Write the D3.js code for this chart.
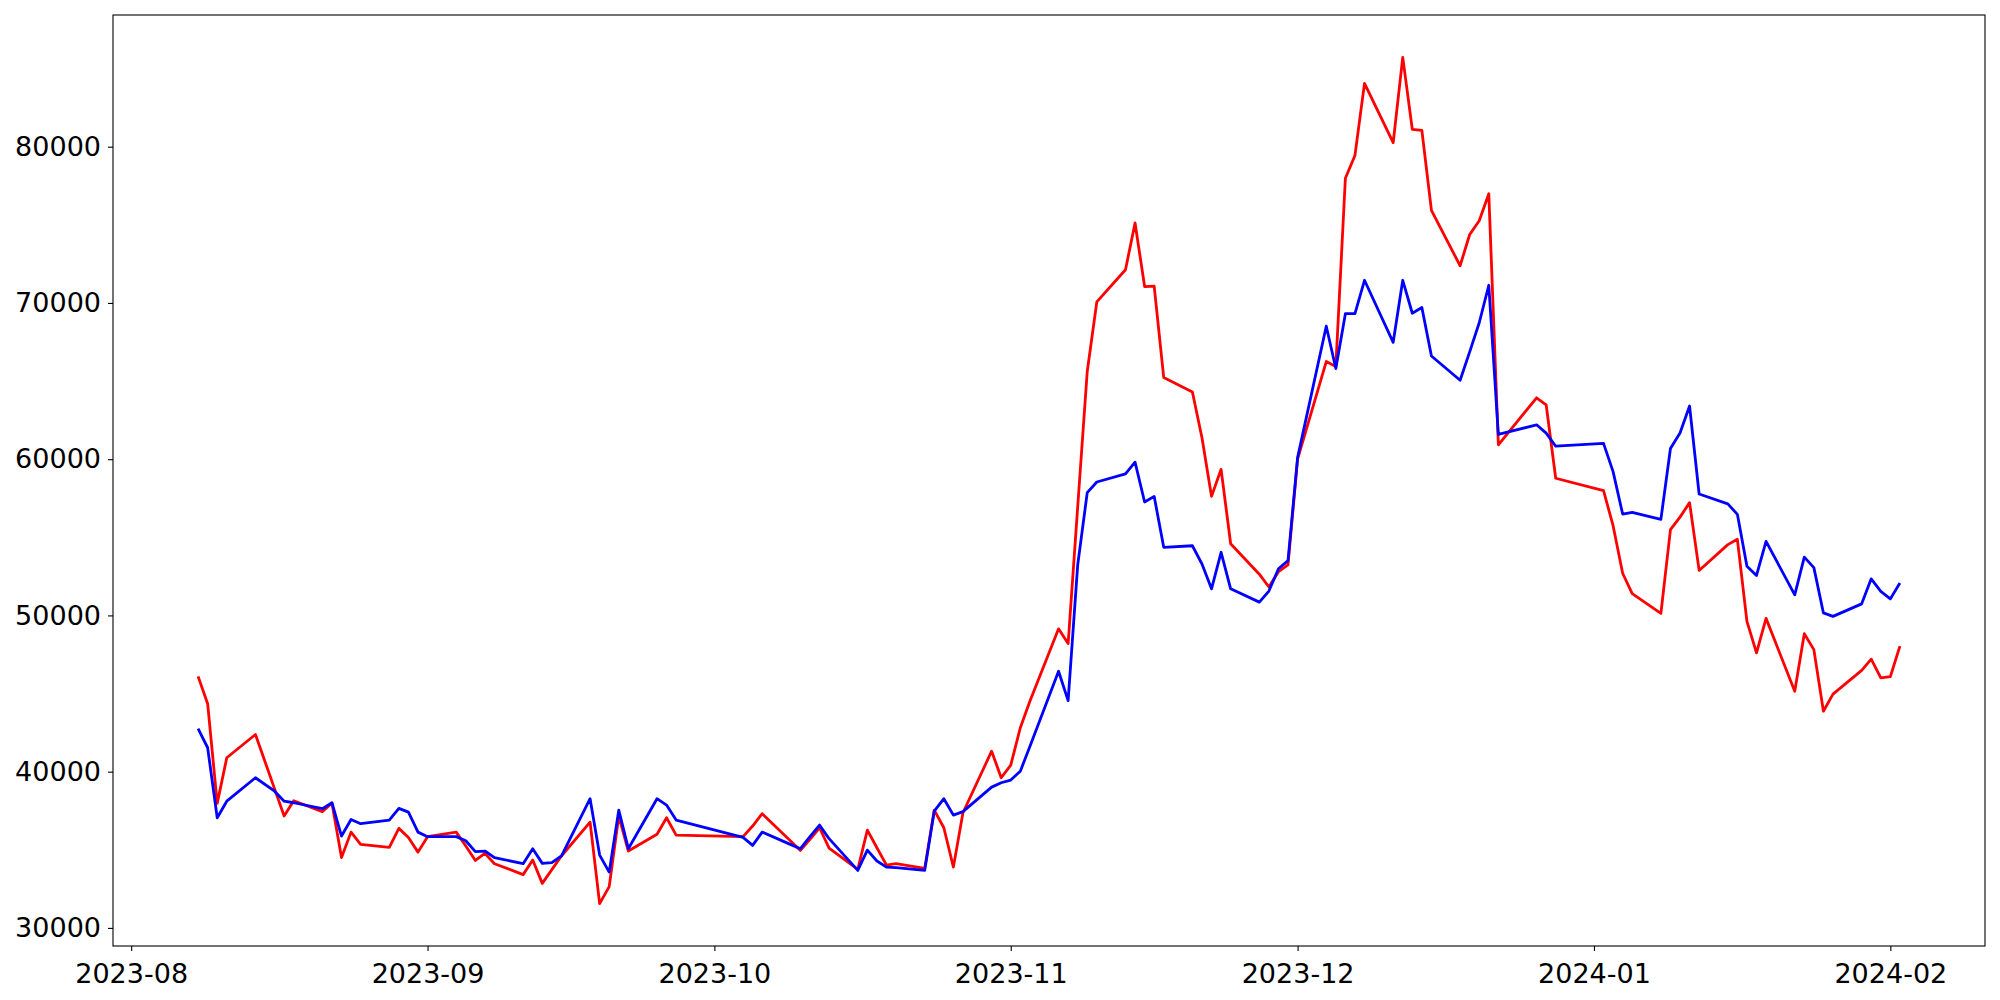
<!DOCTYPE html>
<html>
<head>
<meta charset="utf-8">
<script src="https://cdn.jsdelivr.net/npm/d3@7"></script>
<style>
  body { margin: 0; background: #fff; }
  svg { display: block; }
  .tick text { font-family: "DejaVu Sans", sans-serif; font-size: 27px; fill: #000; }
</style>
</head>
<body>
<svg id="chart" width="2000" height="1000"></svg>
<script>
// Trading dates
const dates = [
  "2023-08-08", "2023-08-09", "2023-08-10", "2023-08-11", "2023-08-14", "2023-08-16",
  "2023-08-17", "2023-08-18", "2023-08-21", "2023-08-22", "2023-08-23", "2023-08-24",
  "2023-08-25", "2023-08-28", "2023-08-29", "2023-08-30", "2023-08-31", "2023-09-01",
  "2023-09-04", "2023-09-05", "2023-09-06", "2023-09-07", "2023-09-08", "2023-09-11",
  "2023-09-12", "2023-09-13", "2023-09-14", "2023-09-15", "2023-09-18", "2023-09-19",
  "2023-09-20", "2023-09-21", "2023-09-22", "2023-09-25", "2023-09-26", "2023-09-27",
  "2023-10-04", "2023-10-05", "2023-10-06", "2023-10-09", "2023-10-10", "2023-10-11",
  "2023-10-12", "2023-10-13", "2023-10-16", "2023-10-17", "2023-10-18", "2023-10-19",
  "2023-10-20", "2023-10-23", "2023-10-24", "2023-10-25", "2023-10-26", "2023-10-27",
  "2023-10-30", "2023-10-31", "2023-11-01", "2023-11-02", "2023-11-03", "2023-11-06",
  "2023-11-07", "2023-11-08", "2023-11-09", "2023-11-10", "2023-11-13", "2023-11-14",
  "2023-11-15", "2023-11-16", "2023-11-17", "2023-11-20", "2023-11-21", "2023-11-22",
  "2023-11-23", "2023-11-24", "2023-11-27", "2023-11-28", "2023-11-29", "2023-11-30",
  "2023-12-01", "2023-12-04", "2023-12-05", "2023-12-06", "2023-12-07", "2023-12-08",
  "2023-12-11", "2023-12-12", "2023-12-13", "2023-12-14", "2023-12-15", "2023-12-18",
  "2023-12-19", "2023-12-20", "2023-12-21", "2023-12-22", "2023-12-26", "2023-12-27",
  "2023-12-28", "2024-01-02", "2024-01-03", "2024-01-04", "2024-01-05", "2024-01-08",
  "2024-01-09", "2024-01-10", "2024-01-11", "2024-01-12", "2024-01-15", "2024-01-16",
  "2024-01-17", "2024-01-18", "2024-01-19", "2024-01-22", "2024-01-23", "2024-01-24",
  "2024-01-25", "2024-01-26", "2024-01-29", "2024-01-30", "2024-01-31", "2024-02-01",
  "2024-02-02",
];

// Red series
const redValues = [
  46100, 44350, 37970, 40890, 42380, 38900,
  37160, 38140, 37440, 37990, 34500, 36130,
  35350, 35150, 36370, 35790, 34850, 35840,
  36130, 35240, 34320, 34770, 34110, 33410,
  34340, 32850, 33730, 34600, 36770, 31550,
  32640, 37160, 34920, 35990, 37050, 35940,
  35840, 36520, 37310, 35540, 34960, 35670,
  36410, 35110, 33750, 36260, 35130, 34020,
  34110, 33810, 37540, 36410, 33890, 37370,
  41310, 39610, 40420, 42810, 44510, 49140,
  48200, 56940, 65610, 70070, 72120, 75120,
  71050, 71080, 65220, 64300, 61370, 57620,
  59350, 54590, 52640, 51820, 52800, 53230,
  60000, 66250, 65930, 77980, 79440, 84050,
  80260, 85720, 81110, 81040, 75920, 72380,
  74380, 75260, 76990, 60920, 63930, 63480,
  58780, 57990, 55740, 52700, 51400, 50130,
  55490, 56290, 57220, 52880, 54530, 54870,
  49620, 47600, 49810, 45150, 48830, 47810,
  43870, 44960, 46480, 47200, 46000, 46080,
  48030,
];

// Blue series
const blueValues = [
  42750, 41530, 37050, 38110, 39610, 38750,
  38110, 38010, 37630, 38010, 35880, 36940,
  36670, 36900, 37650, 37410, 36130, 35840,
  35840, 35580, 34880, 34920, 34500, 34110,
  35070, 34130, 34180, 34600, 38270, 34660,
  33570, 37540, 35070, 38270, 37860, 36900,
  35790, 35280, 36130, 35330, 35070, 35840,
  36580, 35710, 33680, 34980, 34280, 33890,
  33860, 33680, 37480, 38270, 37220, 37440,
  39010, 39290, 39460, 40030, 41610, 46430,
  44550, 53220, 57860, 58540, 59060, 59810,
  57260, 57620, 54360, 54460, 53290, 51700,
  54040, 51700, 50850, 51560, 52990, 53510,
  60100, 68510, 65800, 69310, 69310, 71450,
  67480, 71450, 69340, 69710, 66600, 65050,
  66870, 68730, 71130, 61590, 62200, 61670,
  60830, 61010, 59200, 56490, 56600, 56150,
  60680, 61670, 63400, 57770, 57140, 56470,
  53140, 52560, 54740, 51320, 53730, 53060,
  50160, 49940, 50740, 52340, 51540, 51060,
  52080,
];

const yTicks = [30000, 40000, 50000, 60000, 70000, 80000];

const width = 2000;
const height = 1000;
const margin = { top: 15, right: 15, bottom: 54, left: 113 };

const svg = d3.select("#chart");
const parseDate = d3.utcParse("%Y-%m-%d");
const times = dates.map(parseDate);

// Matplotlib-style 5% padding on both axes
function padded(extent) {
  const pad = (extent[1] - extent[0]) * 0.05;
  return [extent[0] - pad, extent[1] + pad];
}

const tExtent = d3.extent(times, (d) => +d);
const x = d3
  .scaleUtc()
  .domain(padded(tExtent).map((t) => new Date(t)))
  .range([margin.left, width - margin.right]);

const vExtent = d3.extent(redValues.concat(blueValues));
const y = d3
  .scaleLinear()
  .domain(padded(vExtent))
  .range([height - margin.bottom, margin.top]);

svg.append("rect")
  .attr("width", width)
  .attr("height", height)
  .attr("fill", "#fff");

// Lines (red under blue)
const line = d3
  .line()
  .x((d, i) => x(times[i]))
  .y((d) => y(d));

svg.append("path")
  .datum(redValues)
  .attr("fill", "none")
  .attr("stroke", "#ff0000")
  .attr("stroke-width", 2.8)
  .attr("stroke-linejoin", "round")
  .attr("d", line);

svg.append("path")
  .datum(blueValues)
  .attr("fill", "none")
  .attr("stroke", "#0000ff")
  .attr("stroke-width", 2.8)
  .attr("stroke-linejoin", "round")
  .attr("d", line);

// Axes
const xAxis = svg
  .append("g")
  .attr("transform", `translate(0,${height - margin.bottom})`)
  .call(
    d3.axisBottom(x)
      .ticks(d3.utcMonth.every(1))
      .tickFormat(d3.utcFormat("%Y-%m"))
      .tickSize(5)
      .tickSizeOuter(0)
  );
xAxis.select(".domain").remove();
xAxis.selectAll(".tick line").attr("stroke", "#000").attr("stroke-width", 1.1);
xAxis.selectAll(".tick text").attr("y", 36.5).attr("dy", 0);

const yAxis = svg
  .append("g")
  .attr("transform", `translate(${margin.left},0)`)
  .call(
    d3.axisLeft(y)
      .tickValues(yTicks)
      .tickFormat(d3.format("d"))
      .tickSize(5)
      .tickPadding(7)
      .tickSizeOuter(0)
  );
yAxis.select(".domain").remove();
yAxis.selectAll(".tick line").attr("stroke", "#000").attr("stroke-width", 1.1);

// Frame
svg.append("rect")
  .attr("x", margin.left)
  .attr("y", margin.top)
  .attr("width", width - margin.left - margin.right)
  .attr("height", height - margin.top - margin.bottom)
  .attr("fill", "none")
  .attr("stroke", "#000")
  .attr("stroke-width", 1.1);
</script>
</body>
</html>
